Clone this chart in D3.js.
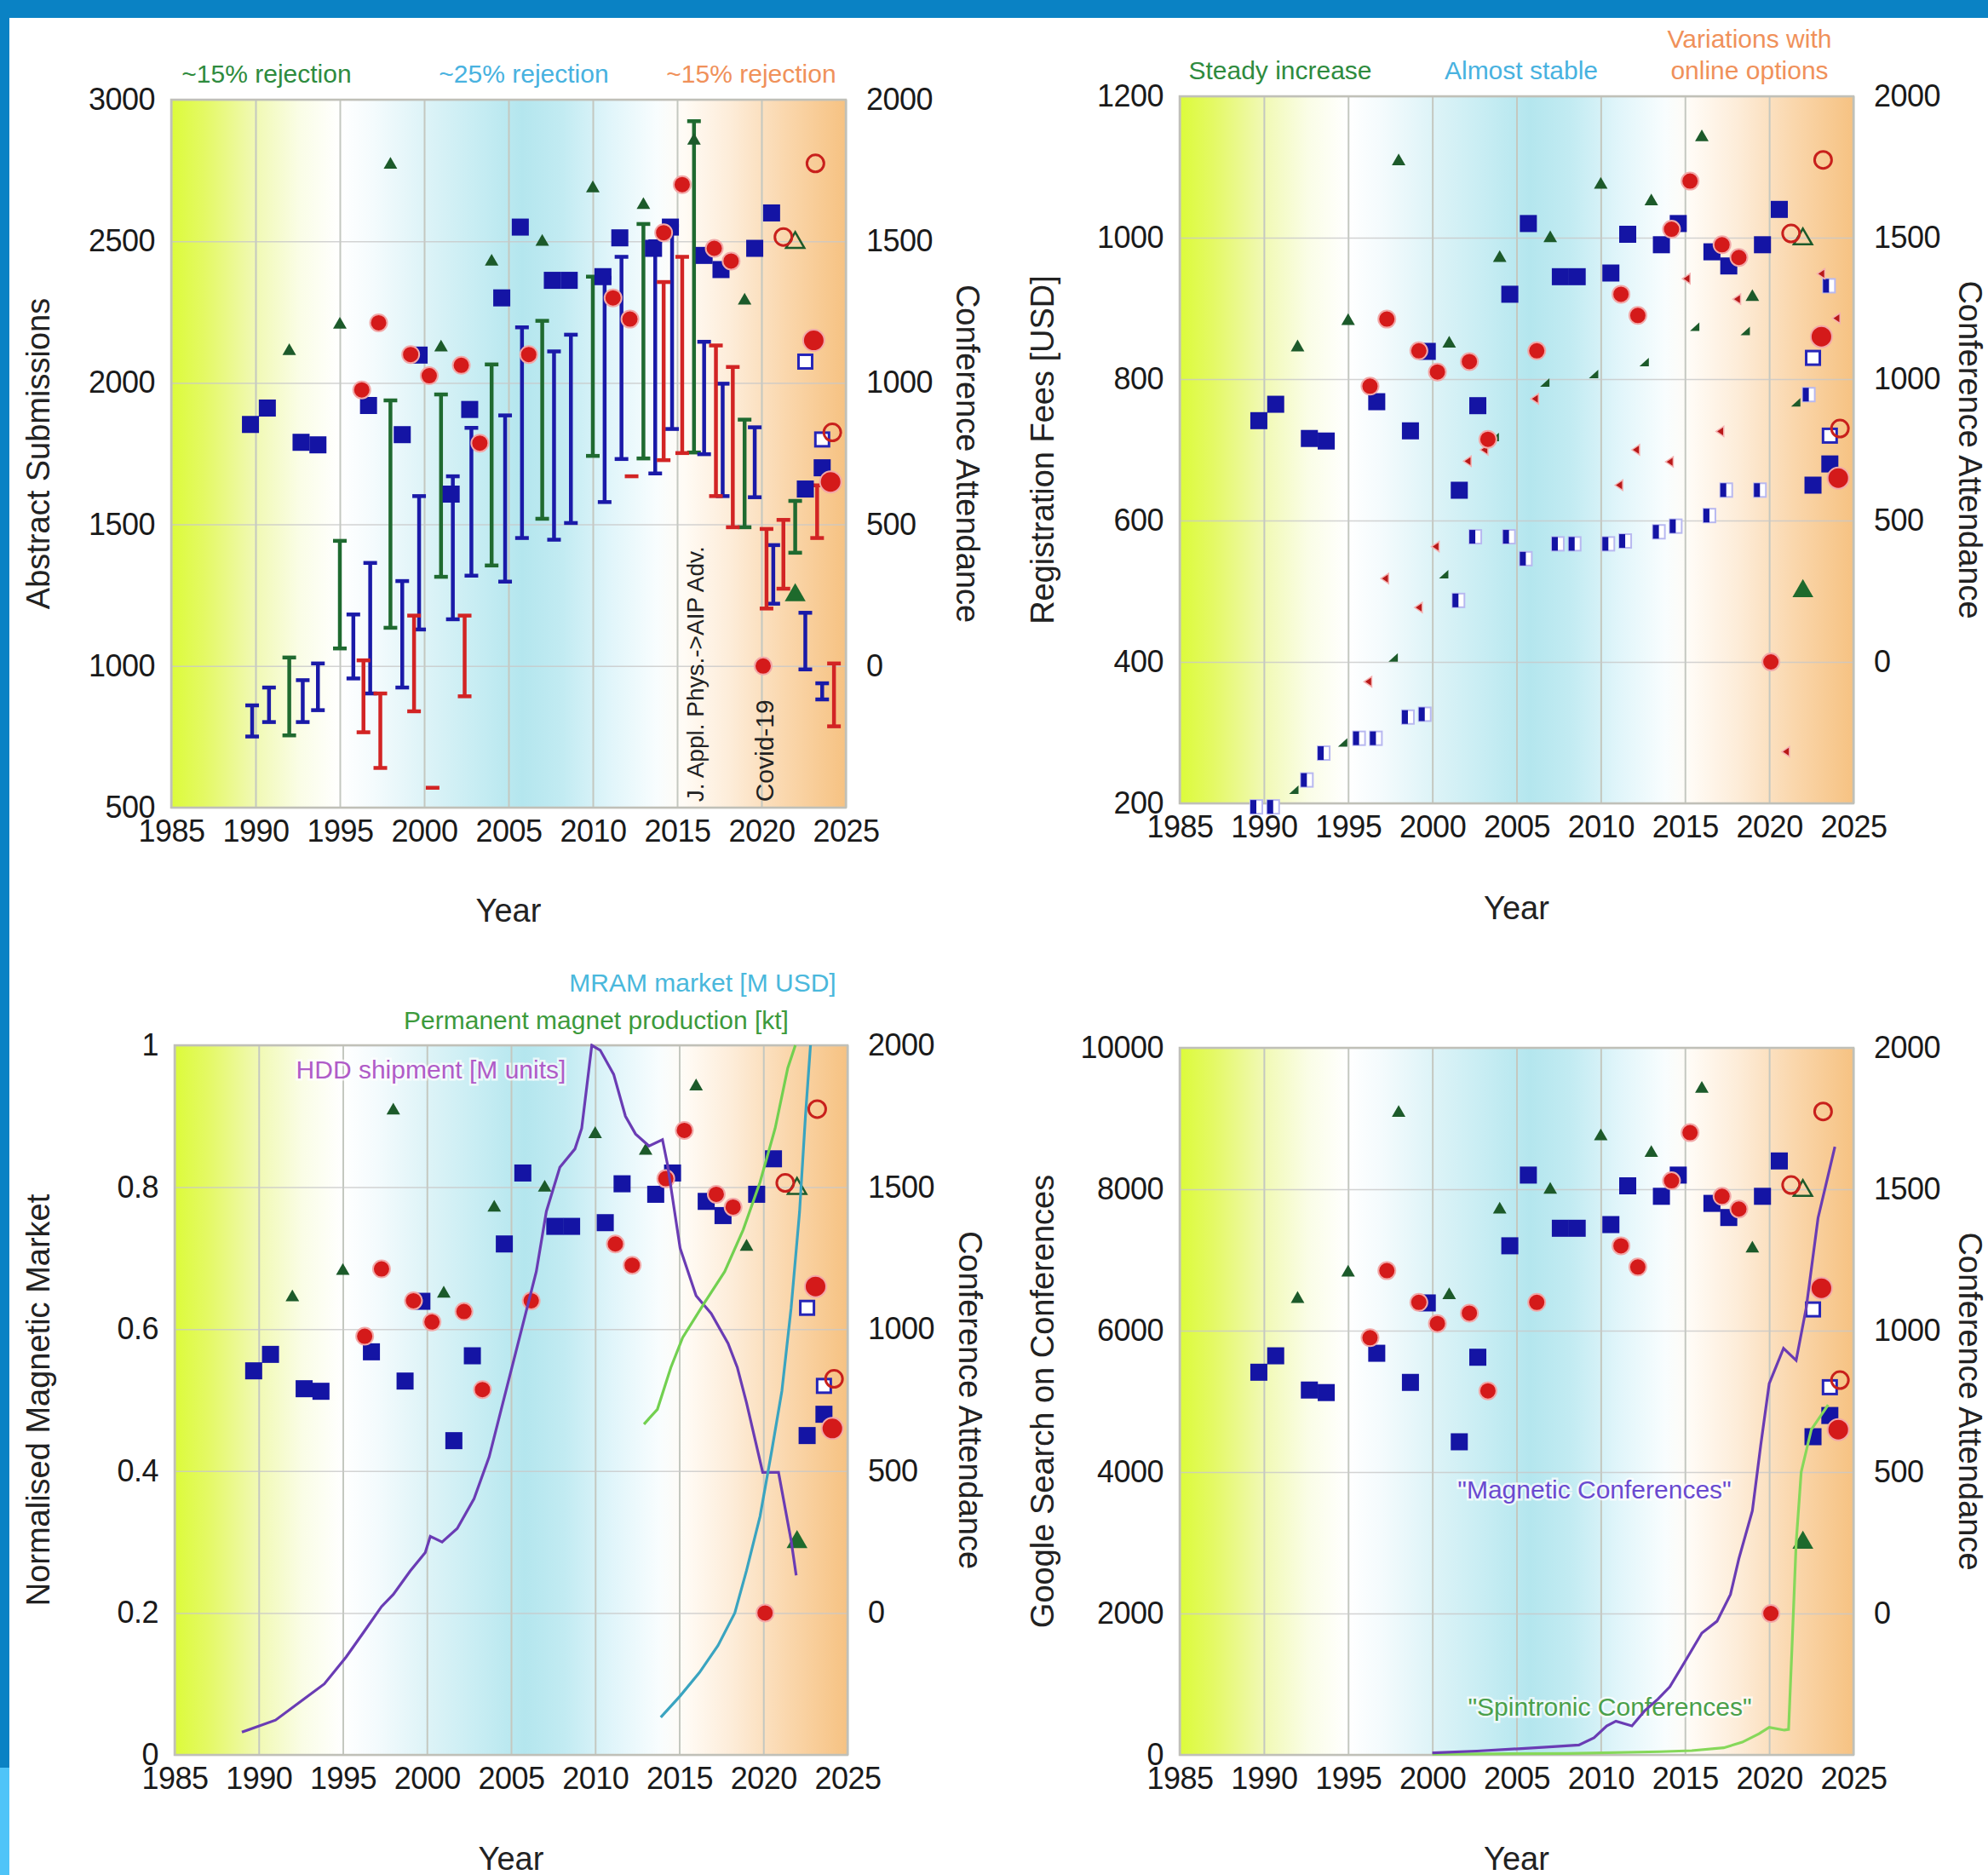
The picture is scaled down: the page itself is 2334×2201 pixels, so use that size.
<!DOCTYPE html>
<html>
<head>
<meta charset="utf-8">
<script src="https://cdn.jsdelivr.net/npm/d3@7"></script>
<style>
  body { margin: 0; background: #fff; }
  svg text { font-family: "Liberation Sans", Arial, sans-serif; }
</style>
</head>
<body>
<div id="chart"></div>
<script>
// ---- data ----
// conference attendance [year, attendees] (right axis in every panel)
const mmmAttend = [[1989.7,853],[1990.7,911],[1992.7,790],[1993.7,781],[1996.7,920],[1998.7,817],[1999.7,1098],[2001.6,607],[2002.7,906],[2004.6,1300],[2005.7,1550],[2007.6,1362],[2008.6,1362],[2010.6,1375],[2011.6,1512],[2013.6,1475],[2014.6,1550],[2016.6,1450],[2017.6,1400],[2019.6,1475],[2020.6,1600],[2022.6,625],[2023.6,700]];
const mmmOnline = [[2022.6,1075],[2023.6,800]];
const intermagAttend = [[1996.3,975],[1997.3,1212],[1999.2,1100],[2000.3,1025],[2002.2,1062],[2003.3,787],[2006.2,1100],[2011.2,1300],[2012.2,1225],[2014.2,1530],[2015.3,1700],[2017.2,1475],[2018.2,1430],[2020.1,0]];
const intermagRecent = [[2023.1,1150],[2024.1,650]];
const intermagOnline = [[2021.3,1515],[2023.2,1775],[2024.2,825]];
const jointAttend = [[1992,1112],[1995,1205],[1998,1770],[2001,1125],[2004,1428],[2007,1498],[2010,1687],[2013,1628],[2016,1855],[2019,1290]];
const jointRecent = [[2022,250]];
const jointOnline = [[2022,1495]];

// abstract submissions [year, low, high] (panel 1)
const mmmAbstracts = [[1989.8,751,861],[1990.8,802,924],[1992.8,802,950],[1993.7,844,1009],[1995.8,956,1182],[1996.8,903,1364],[1998.7,924,1300],[1999.7,1129,1600],[2001.7,1165,1670],[2002.8,1319,1841],[2004.8,1298,1885],[2005.8,1452,2196],[2007.7,1446,2111],[2008.7,1505,2170],[2010.7,1579,2371],[2011.7,1731,2445],[2013.7,1680,2500],[2014.7,1837,2554],[2016.6,1748,2145],[2017.7,1600,1997],[2019.6,1596,1843],[2020.7,1220,1427],[2022.6,988,1188],[2023.6,882,939]];
const jointAbstracts = [[1992,755,1030],[1995,1062,1442],[1998,1135,1938],[2001,1315,1959],[2004,1355,2065],[2007,1520,2219],[2010,1742,2375],[2013,1733,2561],[2016,1754,2924],[2019,1490,1870],[2022,1400,1583]];
const intermagAbstracts = [[1996.4,766,1020],[1997.4,640,903],[1999.4,840,1178],[2000.5,570,570],[2002.4,893,1178],[2012.3,1670,1670],[2014.2,1727,2356],[2015.3,1752,2445],[2017.3,1600,2132],[2018.3,1490,2056],[2020.3,1203,1484],[2021.3,1273,1516],[2023.3,1452,1638],[2024.3,787,1009]];

// registration fees [year, USD] (panel 2)
const mmmFee = [[1989.5,195],[1990.5,195],[1992.5,233],[1993.5,271],[1995.6,292],[1996.6,292],[1998.5,322],[1999.5,326],[2001.5,487],[2002.5,577],[2004.5,577],[2005.5,546],[2007.4,567],[2008.4,567],[2010.4,567],[2011.4,571],[2013.4,584],[2014.4,592],[2016.4,607],[2017.4,643],[2019.4,643],[2022.3,778],[2023.5,932]];
const jointFee = [[1991.8,218],[1994.7,285],[1997.7,405],[2000.7,523],[2003.7,717],[2006.7,794],[2009.6,806],[2012.6,823],[2015.6,873],[2018.6,867],[2021.6,766]];
const intermagFee = [[1996.2,372],[1997.2,518],[1999.2,477],[2000.2,563],[2002.1,684],[2003.1,700],[2006.1,772],[2011.1,650],[2012.1,700],[2014.1,683],[2015.1,942],[2017.1,726],[2018.1,913],[2021.0,273],[2023.1,949],[2024.0,886]];

// normalised market curves [year, value] (panel 3)
const hddShipment = [[1989.0,0.032],[1991.0,0.049],[1992.7,0.079],[1993.9,0.10],[1995.2,0.138],[1996.3,0.175],[1997.3,0.209],[1998.0,0.226],[1999.0,0.259],[1999.9,0.285],[2000.2,0.308],[2000.9,0.30],[2001.8,0.319],[2002.8,0.361],[2003.7,0.42],[2004.6,0.504],[2005.6,0.597],[2006.5,0.681],[2007.1,0.766],[2007.9,0.828],[2008.8,0.854],[2009.2,0.883],[2009.8,1.0],[2010.3,0.993],[2011.1,0.959],[2011.8,0.90],[2012.4,0.875],[2013.2,0.858],[2014.0,0.867],[2014.3,0.832],[2015.05,0.714],[2016.0,0.647],[2016.9,0.622],[2017.9,0.58],[2018.45,0.546],[2019.0,0.496],[2019.96,0.398],[2020.9,0.398],[2021.65,0.302],[2021.95,0.253]];
const magnetProduction = [[2012.9,0.466],[2013.7,0.487],[2014.5,0.546],[2015.2,0.588],[2016.55,0.639],[2017.7,0.681],[2018.8,0.74],[2019.8,0.807],[2020.7,0.883],[2021.45,0.968],[2021.9,1.0]];
const mramMarket = [[2013.9,0.053],[2015.05,0.083],[2016.2,0.116],[2017.3,0.154],[2018.3,0.20],[2019.0,0.26],[2019.8,0.336],[2020.5,0.429],[2021.1,0.513],[2021.65,0.63],[2022.15,0.765],[2022.5,0.90],[2022.8,1.0]];

// google searches [year, count] (panel 4)
const magneticSearch = [[2000.0,29],[2002.65,54],[2005.3,89],[2007.15,115],[2008.7,140],[2009.6,241],[2010.35,410],[2010.9,477],[2011.85,410],[2012.6,622],[2013.4,790],[2014.1,964],[2015.05,1340],[2016.0,1723],[2016.9,1890],[2017.7,2269],[2018.2,2776],[2019.0,3452],[2019.5,4386],[2020.0,5250],[2020.85,5750],[2021.6,5580],[2022.2,6325],[2022.9,7594],[2023.9,8600]];
const spintronicSearch = [[2000.0,10],[2008.0,20],[2013.5,45],[2015.4,60],[2017.3,100],[2018.4,180],[2019.4,300],[2020.0,390],[2020.9,350],[2021.15,360],[2021.35,1500],[2021.6,3000],[2021.9,4000],[2022.5,4600],[2023.5,4950]];

const yearTicks = [1985,1990,1995,2000,2005,2010,2015,2020,2025];
const attendTicks = [0,500,1000,1500,2000];

// ---- layout ----
const W = 2334, H = 2201;
const panels = [
  {x0:201, x1:993, y0:117, y1:948, left:[500,3000], leftTicks:[500,1000,1500,2000,2500,3000], fmt:d3.format("d"),
   title:"Abstract Submissions", titleX:45, rTitleX:1136, yearY:1069},
  {x0:1385, x1:2176, y0:113, y1:943, left:[200,1200], leftTicks:[200,400,600,800,1000,1200], fmt:d3.format("d"),
   title:"Registration Fees [USD]", titleX:1224, rTitleX:2313, yearY:1066},
  {x0:205, x1:995, y0:1227, y1:2060, left:[0,1], leftTicks:[0,0.2,0.4,0.6,0.8,1], fmt:d => d3.format("~g")(d),
   title:"Normalised Magnetic Market", titleX:45, rTitleX:1139, yearY:2182},
  {x0:1385, x1:2176, y0:1230, y1:2060, left:[0,10000], leftTicks:[0,2000,4000,6000,8000,10000], fmt:d3.format("d"),
   title:"Google Search on Conferences", titleX:1224, rTitleX:2313, yearY:2182}
];

const svg = d3.select("#chart").append("svg")
  .attr("width", W).attr("height", H);

svg.append("rect").attr("width", W).attr("height", H).attr("fill", "#fff");

// frame stripes
svg.append("rect").attr("x", 0).attr("y", 0).attr("width", W).attr("height", 21).attr("fill", "#0a82c4");
svg.append("rect").attr("x", 0).attr("y", 0).attr("width", 11).attr("height", 2075).attr("fill", "#0a82c4");
svg.append("rect").attr("x", 0).attr("y", 2075).attr("width", 11).attr("height", H - 2075).attr("fill", "#4fc4f8");

// background gradient shared by all panels
const defs = svg.append("defs");
const grad = defs.append("linearGradient").attr("id", "bg").attr("x1", 0).attr("x2", 1).attr("y1", 0).attr("y2", 0);
[[0,"#dcfb3a"],[0.05,"#e4f965"],[0.12,"#f0f9b0"],[0.19,"#fafde6"],[0.25,"#ffffff"],[0.30,"#f4fbfd"],
 [0.38,"#dcf3f7"],[0.45,"#c8edf3"],[0.52,"#b4e6ee"],[0.58,"#c2ebf2"],[0.65,"#e0f5fa"],[0.72,"#f8fdfe"],
 [0.76,"#fffbf5"],[0.83,"#fdecd8"],[0.91,"#fad7ad"],[1,"#f6c282"]]
  .forEach(s => grad.append("stop").attr("offset", s[0]).attr("stop-color", s[1]));

const blue = "#1414a4", red = "#d41a1a", green = "#1c5a2a";

function styleAxis(g, size) {
  g.select(".domain").remove();
  g.attr("font-family", null).attr("font-size", null);
  g.selectAll("text").attr("font-size", size).attr("fill", "#1a1a1a").attr("letter-spacing", "-0.5");
}

function drawPanel(p, i) {
  const x = d3.scaleLinear().domain([1985, 2025]).range([p.x0, p.x1]);
  const yL = d3.scaleLinear().domain(p.left).range([p.y1, p.y0]);
  const yR = d3.scaleLinear().domain([-500, 2000]).range([p.y1, p.y0]);
  const g = svg.append("g").attr("class", "panel-" + i);
  const w = p.x1 - p.x0, h = p.y1 - p.y0;

  defs.append("clipPath").attr("id", "clip" + i)
    .append("rect").attr("x", p.x0).attr("y", p.y0 - 2).attr("width", w).attr("height", h + 4);

  g.append("rect").attr("x", p.x0).attr("y", p.y0).attr("width", w).attr("height", h).attr("fill", "url(#bg)");

  // grid
  g.append("g").attr("transform", `translate(0,${p.y1})`)
    .call(d3.axisBottom(x).tickValues(yearTicks).tickSize(-h).tickFormat(""))
    .call(a => { a.select(".domain").remove(); a.selectAll("line").attr("stroke", "#c4c8c0").attr("stroke-width", 2); });
  g.append("g").attr("transform", `translate(${p.x0},0)`)
    .call(d3.axisLeft(yL).tickValues(p.leftTicks).tickSize(-w).tickFormat(""))
    .call(a => { a.select(".domain").remove(); a.selectAll("line").attr("stroke", "#c8c8c8").attr("stroke-width", 1.5).attr("opacity", 0.8); });
  g.append("rect").attr("x", p.x0).attr("y", p.y0).attr("width", w).attr("height", h)
    .attr("fill", "none").attr("stroke", "#c0c0b8").attr("stroke-width", 2.5);

  // axes labels
  g.append("g").attr("transform", `translate(0,${p.y1})`)
    .call(d3.axisBottom(x).tickValues(yearTicks).tickSize(0).tickPadding(14).tickFormat(d3.format("d")))
    .call(a => styleAxis(a, 36));
  g.append("g").attr("transform", `translate(${p.x0},0)`)
    .call(d3.axisLeft(yL).tickValues(p.leftTicks).tickSize(0).tickPadding(19).tickFormat(p.fmt))
    .call(a => styleAxis(a, 36));
  g.append("g").attr("transform", `translate(${p.x1},0)`)
    .call(d3.axisRight(yR).tickValues(attendTicks).tickSize(0).tickPadding(24).tickFormat(d3.format("d")))
    .call(a => styleAxis(a, 36));

  const cy = (p.y0 + p.y1) / 2;
  g.append("text").attr("transform", `translate(${p.titleX},${cy}) rotate(-90)`)
    .attr("text-anchor", "middle").attr("dominant-baseline", "central")
    .attr("font-size", 38).attr("fill", "#222").text(p.title);
  g.append("text").attr("transform", `translate(${p.rTitleX},${cy}) rotate(90)`)
    .attr("text-anchor", "middle").attr("dominant-baseline", "central")
    .attr("font-size", 38).attr("fill", "#222").text("Conference Attendance");
  g.append("text").attr("x", (p.x0 + p.x1) / 2).attr("y", p.yearY)
    .attr("text-anchor", "middle").attr("dominant-baseline", "central")
    .attr("font-size", 38).attr("fill", "#222").text("Year");

  return {g, x, yL, yR};
}

function label(g, x, y, txt, color, size) {
  g.append("text").attr("x", x).attr("y", y)
    .attr("text-anchor", "middle").attr("dominant-baseline", "central")
    .attr("font-size", size || 30).attr("fill", color)
    .attr("stroke", "#fff").attr("stroke-width", 5).attr("stroke-opacity", 0.7)
    .attr("paint-order", "stroke").text(txt);
}

function errorBars(g, data, x, y, color) {
  const bars = g.append("g").selectAll("g").data(data).enter().append("g")
    .attr("stroke", color).attr("stroke-width", 4.5);
  bars.filter(d => d[2] > d[1]).append("line")
    .attr("x1", d => x(d[0])).attr("x2", d => x(d[0]))
    .attr("y1", d => y(d[1])).attr("y2", d => y(d[2]));
  bars.append("line").attr("x1", d => x(d[0]) - 8).attr("x2", d => x(d[0]) + 8)
    .attr("y1", d => y(d[1])).attr("y2", d => y(d[1]));
  bars.filter(d => d[2] > d[1]).append("line").attr("x1", d => x(d[0]) - 8).attr("x2", d => x(d[0]) + 8)
    .attr("y1", d => y(d[2])).attr("y2", d => y(d[2]));
}

function attendance(g, x, yR) {
  const s = g.append("g").attr("class", "attendance");
  const tri = d3.symbol().type(d3.symbolTriangle);
  // triangles
  s.selectAll(".tri").data(jointAttend).enter().append("path")
    .attr("transform", d => `translate(${x(d[0])},${yR(d[1])})`)
    .attr("d", tri.size(110)()).attr("fill", green);
  s.selectAll(".trib").data(jointRecent).enter().append("path")
    .attr("transform", d => `translate(${x(d[0])},${yR(d[1])})`)
    .attr("d", tri.size(260)()).attr("fill", "#1e6a2c");
  s.selectAll(".trio").data(jointOnline).enter().append("path")
    .attr("transform", d => `translate(${x(d[0])},${yR(d[1])})`)
    .attr("d", tri.size(200)()).attr("fill", "none").attr("stroke", green).attr("stroke-width", 2.5);
  // squares
  s.selectAll(".sq").data(mmmAttend).enter().append("rect")
    .attr("x", d => x(d[0]) - 10).attr("y", d => yR(d[1]) - 10)
    .attr("width", 20).attr("height", 20).attr("fill", blue);
  s.selectAll(".sqo").data(mmmOnline).enter().append("rect")
    .attr("x", d => x(d[0]) - 8).attr("y", d => yR(d[1]) - 8)
    .attr("width", 16).attr("height", 16).attr("fill", "#fff").attr("stroke", "#2424b8").attr("stroke-width", 3);
  // circles
  s.selectAll(".ci").data(intermagAttend).enter().append("circle")
    .attr("cx", d => x(d[0])).attr("cy", d => yR(d[1])).attr("r", 10)
    .attr("fill", red).attr("stroke", "#f2a8a8").attr("stroke-width", 2);
  s.selectAll(".cib").data(intermagRecent).enter().append("circle")
    .attr("cx", d => x(d[0])).attr("cy", d => yR(d[1])).attr("r", 12.5)
    .attr("fill", red).attr("stroke", "#f2a8a8").attr("stroke-width", 2);
  s.selectAll(".cio").data(intermagOnline).enter().append("circle")
    .attr("cx", d => x(d[0])).attr("cy", d => yR(d[1])).attr("r", 10)
    .attr("fill", "none").attr("stroke", "#c8201c").attr("stroke-width", 3);
}

const parts = panels.map(drawPanel);

// ---- panel 1 ----
{
  const {g, x, yL, yR} = parts[0];
  errorBars(g, jointAbstracts, x, yL, "#1f6a30");
  errorBars(g, mmmAbstracts, x, yL, "#1a1aa8");
  errorBars(g, intermagAbstracts, x, yL, "#d22424");
  attendance(g, x, yR);
  g.append("text").attr("transform", `translate(${x(2016.1)},${yL(520)}) rotate(-90)`)
    .attr("dominant-baseline", "central").attr("font-size", 28).attr("fill", "#222")
    .text("J. Appl. Phys.->AIP Adv.");
  g.append("text").attr("transform", `translate(${x(2020.2)},${yL(520)}) rotate(-90)`)
    .attr("dominant-baseline", "central").attr("font-size", 30).attr("fill", "#222")
    .text("Covid-19");
  label(g, 313, 86, "~15% rejection", "#2e8b3e");
  label(g, 615, 86, "~25% rejection", "#48b2e0");
  label(g, 882, 86, "~15% rejection", "#f0915a");
}

// ---- panel 2 ----
{
  const {g, x, yL, yR} = parts[1];
  const f = g.append("g").attr("class", "fees");
  f.selectAll(".mf").data(mmmFee).enter().append("g")
    .attr("transform", d => `translate(${x(d[0])},${yL(d[1])})`)
    .each(function() {
      const e = d3.select(this);
      e.append("rect").attr("x", -6).attr("y", -8).attr("width", 14).attr("height", 16)
        .attr("fill", "#fff").attr("stroke", "#b8b8f0").attr("stroke-width", 2);
      e.append("rect").attr("x", -6).attr("y", -8).attr("width", 7).attr("height", 16).attr("fill", blue);
    });
  f.selectAll(".jf").data(jointFee).enter().append("path")
    .attr("transform", d => `translate(${x(d[0])},${yL(d[1])})`)
    .attr("d", "M-6,4 L5,4 L5,-6 Z").attr("fill", green);
  f.selectAll(".if").data(intermagFee).enter().append("path")
    .attr("transform", d => `translate(${x(d[0])},${yL(d[1])})`)
    .attr("d", "M-5,0 L4,-6 L4,6 Z").attr("fill", "#b81818").attr("stroke", "#f4b0b0").attr("stroke-width", 1.5);
  attendance(g, x, yR);
  label(g, 1503, 82, "Steady increase", "#2e8b3e");
  label(g, 1786, 82, "Almost stable", "#48b2e0");
  label(g, 2054, 45, "Variations with", "#f0915a");
  label(g, 2054, 82, "online options", "#f0915a");
}

// ---- panel 3 ----
{
  const {g, x, yL, yR} = parts[2];
  attendance(g, x, yR);
  const line = d3.line().x(d => x(d[0])).y(d => yL(d[1]));
  const lines = g.append("g").attr("clip-path", "url(#clip2)").attr("fill", "none").attr("stroke-width", 3.2);
  lines.append("path").datum(hddShipment).attr("d", line).attr("stroke", "#6a3cb4");
  lines.append("path").datum(magnetProduction).attr("d", line).attr("stroke", "#72d050");
  lines.append("path").datum(mramMarket).attr("d", line).attr("stroke", "#3aa4c0");
  label(g, 825, 1153, "MRAM market [M USD]", "#4ab8dc");
  label(g, 700, 1197, "Permanent magnet production [kt]", "#3c9a3c");
  label(g, 506, 1255, "HDD shipment [M units]", "#b05cc8");
}

// ---- panel 4 ----
{
  const {g, x, yL, yR} = parts[3];
  attendance(g, x, yR);
  const line = d3.line().x(d => x(d[0])).y(d => yL(d[1]));
  label(g, 1872, 1748, "\"Magnetic Conferences\"", "#6a4ad0");
  label(g, 1890, 2003, "\"Spintronic Conferences\"", "#4aa04a");
  const lines = g.append("g").attr("clip-path", "url(#clip3)").attr("fill", "none").attr("stroke-width", 3.2);
  lines.append("path").datum(spintronicSearch).attr("d", line).attr("stroke", "#86d85a");
  lines.append("path").datum(magneticSearch).attr("d", line).attr("stroke", "#6a3cb4");
}
</script>
</body>
</html>
